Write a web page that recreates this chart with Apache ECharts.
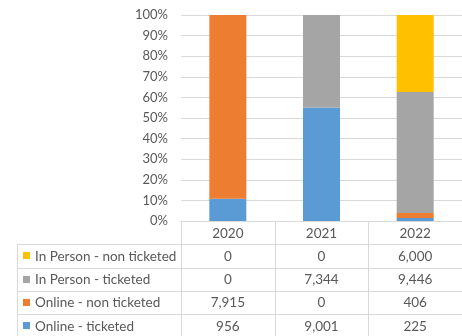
<!DOCTYPE html>
<html>
<head>
<meta charset="utf-8">
<script src="https://cdn.jsdelivr.net/npm/echarts@6/dist/echarts.min.js"></script>
<style>
  html, body { margin: 0; padding: 0; background: #fff; }
  #chart { width: 462px; height: 336px; }
</style>
</head>
<body>
<div id="chart"></div>
<script>
// Attendance by year and format
var categories = ['2020', '2021', '2022'];
var onlineTicketed = [956, 9001, 225];
var onlineNonTicketed = [7915, 0, 406];
var inPersonTicketed = [0, 7344, 9446];
var inPersonNonTicketed = [0, 0, 6000];
var yTicks = [0, 10, 20, 30, 40, 50, 60, 70, 80, 90, 100];

var FONT = 'Lato';
var TEXT = '#595959';
var LINE = '#d9d9d9';

// Series from bottom of the stack to the top
var seriesDefs = [
  { name: 'Online - ticketed', values: onlineTicketed, color: '#5B9BD5' },
  { name: 'Online - non ticketed', values: onlineNonTicketed, color: '#ED7D31' },
  { name: 'In Person - ticketed', values: inPersonTicketed, color: '#A5A5A5' },
  { name: 'In Person - non ticketed', values: inPersonNonTicketed, color: '#FFC000' }
];

var totals = categories.map(function (c, i) {
  return seriesDefs.reduce(function (s, d) { return s + d.values[i]; }, 0);
});

function pct(values) {
  return values.map(function (v, i) { return v / totals[i] * 100; });
}

var chart = echarts.init(document.getElementById('chart'), null, { renderer: 'canvas' });

var gridTop = 15, gridBottom = 115, gridLeft = 181;

chart.setOption({
  animation: false,
  grid: { left: gridLeft, right: 0, top: gridTop, bottom: gridBottom, containLabel: false },
  xAxis: {
    type: 'category',
    data: categories,
    axisLine: { show: true, lineStyle: { color: LINE, width: 1 } },
    axisTick: { show: false },
    axisLabel: { show: false }
  },
  yAxis: {
    type: 'value',
    min: yTicks[0],
    max: yTicks[yTicks.length - 1],
    interval: 10,
    axisLine: { show: false },
    axisTick: { show: false },
    axisLabel: {
      margin: 13,
      color: TEXT,
      fontFamily: FONT,
      fontSize: 13,
      formatter: function (v) { return v + '%'; }
    },
    splitLine: { lineStyle: { color: LINE, width: 1 } }
  },
  series: seriesDefs.map(function (d) {
    return {
      name: d.name,
      type: 'bar',
      stack: 'share',
      barWidth: 37,
      data: pct(d.values),
      itemStyle: { color: d.color }
    };
  })
});

// Data table under the plot
function buildTable() {
  var band = chart.convertToPixel({ xAxisIndex: 0 }, 1) - chart.convertToPixel({ xAxisIndex: 0 }, 0);
  var centers = categories.map(function (c, i) { return chart.convertToPixel({ xAxisIndex: 0 }, i); });
  var bounds = [centers[0] - band / 2];
  centers.forEach(function (c) { bounds.push(c + band / 2); });
  var y0 = 336 - gridBottom;
  var rowH = 23.3;
  var tableLeft = 17.5;
  var rows = seriesDefs.slice().reverse();
  var els = [];

  function line(x1, y1, x2, y2) {
    els.push({
      type: 'line',
      shape: { x1: x1, y1: y1, x2: x2, y2: y2 },
      style: { stroke: LINE, lineWidth: 1 },
      silent: true
    });
  }
  function text(x, y, s, align) {
    els.push({
      type: 'text',
      x: x, y: y,
      style: {
        text: s, fill: TEXT, font: '13.5px ' + FONT,
        align: align, verticalAlign: 'middle'
      },
      silent: true
    });
  }

  // vertical borders
  bounds.forEach(function (bx, i) {
    if (i < bounds.length - 1) line(Math.round(bx) + 0.5, y0, Math.round(bx) + 0.5, 340);
  });
  line(tableLeft, y0 + rowH, tableLeft, 340);

  // horizontal borders
  for (var r = 1; r <= rows.length; r++) {
    var yy = Math.round(y0 + rowH * r) + 0.5;
    line(tableLeft, yy, 462, yy);
  }

  // header
  categories.forEach(function (c, i) { text(centers[i], y0 + rowH / 2 + 0.5, c, 'center'); });

  // rows
  rows.forEach(function (d, r) {
    var cy = y0 + rowH * (r + 1) + rowH / 2 + 0.5;
    els.push({
      type: 'rect',
      shape: { x: 23, y: Math.round(cy) - 4, width: 7, height: 7 },
      style: { fill: d.color },
      silent: true
    });
    text(35, cy, d.name, 'left');
    d.values.forEach(function (v, i) {
      text(centers[i], cy, v.toLocaleString('en-US'), 'center');
    });
  });

  chart.setOption({ graphic: { elements: els } });
}
buildTable();
</script>
</body>
</html>
